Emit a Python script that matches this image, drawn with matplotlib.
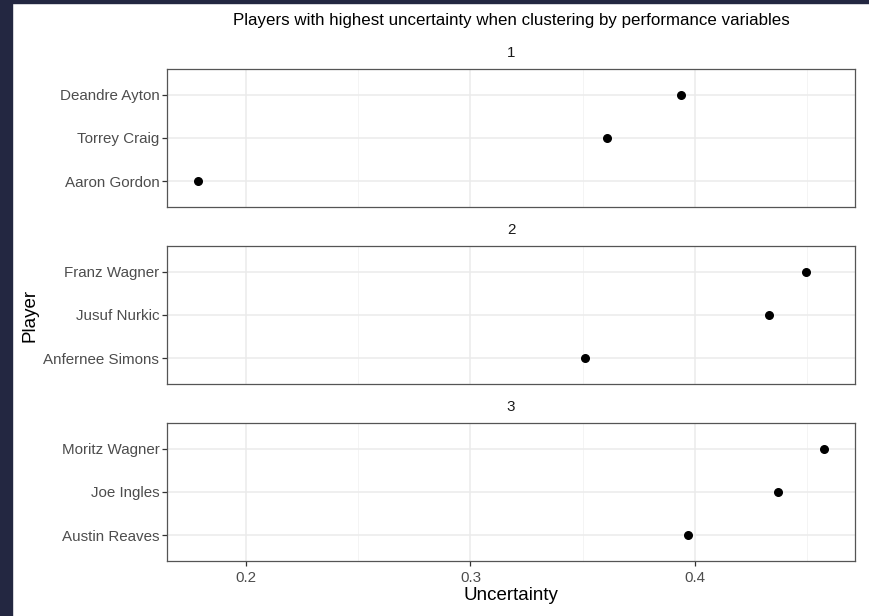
import matplotlib
matplotlib.use("Agg")
import matplotlib.pyplot as plt
from matplotlib.patches import Rectangle

plt.rcParams['font.family'] = ['Liberation Sans', 'DejaVu Sans']

clusters = ["1", "2", "3"]
players = [
    ["Aaron Gordon", "Torrey Craig", "Deandre Ayton"],
    ["Anfernee Simons", "Jusuf Nurkic", "Franz Wagner"],
    ["Austin Reaves", "Joe Ingles", "Moritz Wagner"],
]
uncertainty = [
    [0.1786, 0.3608, 0.3938],
    [0.3510, 0.4330, 0.4494],
    [0.3969, 0.4370, 0.4575],
]
xticks = [0.2, 0.3, 0.4]
xminor = [0.25, 0.35, 0.45]
title = "Players with highest uncertainty when clustering by performance variables"

W, H = 869, 616
fig = plt.figure(figsize=(W / 100, H / 100), dpi=100)
fig.patch.set_facecolor("white")
# dark frame at left/top
fig.patches.append(Rectangle((0, 0), 12 / W, 1, transform=fig.transFigure, color="#232741", zorder=10))
fig.patches.append(Rectangle((0, 1 - 3 / H), 1, 3 / H, transform=fig.transFigure, color="#232741", zorder=10))

left, right = 167, 855
tops = [69, 246, 423]
ph = 138
xlim = (0.1648, 0.4713)

for i, (cl, names, vals) in enumerate(zip(clusters, players, uncertainty)):
    t = tops[i]
    ax = fig.add_axes([left / W, 1 - (t + ph) / H, (right - left) / W, ph / H])
    ax.set_xlim(*xlim)
    ax.set_ylim(0.4, 3.6)
    ys = list(range(1, len(names) + 1))
    ax.set_yticks(ys)
    ax.set_yticklabels(names)
    ax.set_xticks(xticks)
    ax.set_xticks(xminor, minor=True)
    for x in xticks:
        ax.axvline(x, color="#EBEBEB", lw=1.1, zorder=0)
    for x in xminor:
        ax.axvline(x, color="#F2F2F2", lw=0.6, zorder=0)
    for y in ys:
        ax.axhline(y, color="#EBEBEB", lw=1.1, zorder=0)
    ax.scatter(vals, ys, s=30, color="black", zorder=3)
    for sp in ax.spines.values():
        sp.set_color("#555555")
        sp.set_linewidth(0.9)
    ax.tick_params(axis="both", which="major", colors="#333333", labelcolor="#4D4D4D",
                   labelsize=10.9, length=3.5, width=0.9)
    ax.tick_params(axis="both", which="minor", length=0)
    ax.tick_params(axis="y", pad=2)
    if i < 2:
        ax.tick_params(axis="x", which="both", bottom=False, labelbottom=False)
    else:
        ax.set_xticklabels([f"{x:.1f}" for x in xticks])
    fig.text((left + right) / 2 / W, 1 - (t - 16) / H, cl, ha="center", va="center",
             fontsize=10.9, color="#1A1A1A")

fig.text(511 / W, 1 - 20 / H, title, ha="center", va="center", fontsize=12.2, color="black")
fig.text(511 / W, 1 - 596 / H, "Uncertainty", ha="center", va="center", fontsize=13.5, color="black")
fig.text(30 / W, 1 - 315 / H, "Player", ha="center", va="center", rotation=90, fontsize=13.5, color="black")

fig.savefig("out.png", dpi=100)
